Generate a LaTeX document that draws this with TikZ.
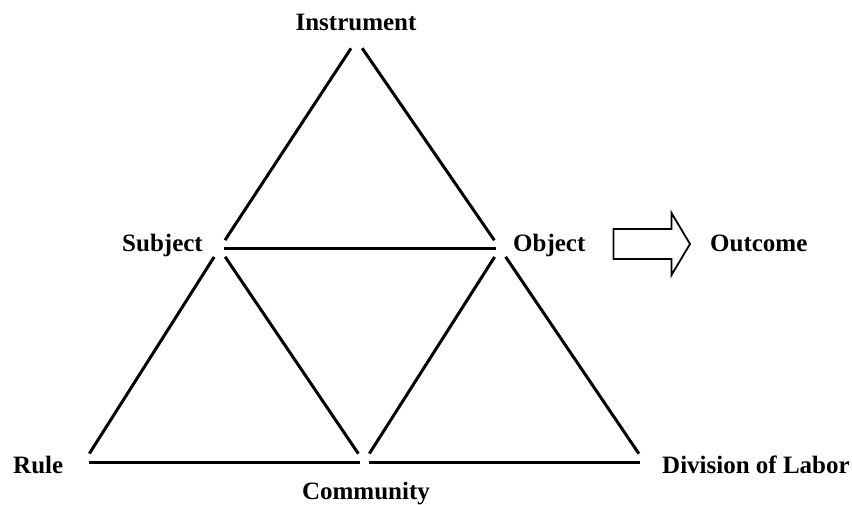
\documentclass[tikz,border=0pt]{standalone}
\usepackage{fontspec}
\setmainfont{Liberation Serif}
\usetikzlibrary{positioning}
\tikzset{
  every picture/.append style={line join=miter},
  act label/.style={font=\fontsize{25}{30}\selectfont\bfseries,inner sep=0pt},
  act edge/.style={line width=3pt,shorten <=10pt,shorten >=10pt},
  act base/.style={line width=3pt,shorten <=4.5pt,shorten >=4.5pt},
  act outcome/.style={line width=1.8pt}
}
\begin{document}
\begin{tikzpicture}[x=1pt,y=-1pt]
\useasboundingbox (0,0) rectangle (852,505);
\coordinate (instr) at (356.5,40);
\coordinate (subj) at (219.5,248.5);
\coordinate (obj) at (500,248.5);
\coordinate (rule) at (84,462);
\coordinate (comm) at (364,462);
\coordinate (div) at (644.5,462);
\node[act label,anchor=base] (instrlab) at (356,31) {Instrument};
\node[act label,anchor=base east] (subjlab) at (203,252) {Subject};
\node[act label,anchor=base west] (objlab) at (513,252) {Object};
\node[act label,anchor=base west] (outlab) at (710,252) {Outcome};
\node[act label,anchor=base west] (rulelab) at (13,473) {Rule};
\node[act label,anchor=base] (commlab) at (366,499) {Community};
\node[act label,anchor=base west] (divlab) at (662,473) {Division of Labor};
\draw[act edge] (subj) -- (instr);
\draw[act edge] (instr) -- (obj);
\draw[act base] (subj) -- (obj);
\draw[act edge] (subj) -- (rule);
\draw[act edge] (subj) -- (comm);
\draw[act edge] (obj) -- (comm);
\draw[act edge] (obj) -- (div);
\draw[act base] (rule) -- (comm);
\draw[act base] (comm) -- (div);
\draw[act outcome] (613.5,229) -- (671.5,229) -- (671.5,213) -- (690,244)
  -- (671.5,275) -- (671.5,259) -- (613.5,259) -- cycle;
\end{tikzpicture}
\end{document}
